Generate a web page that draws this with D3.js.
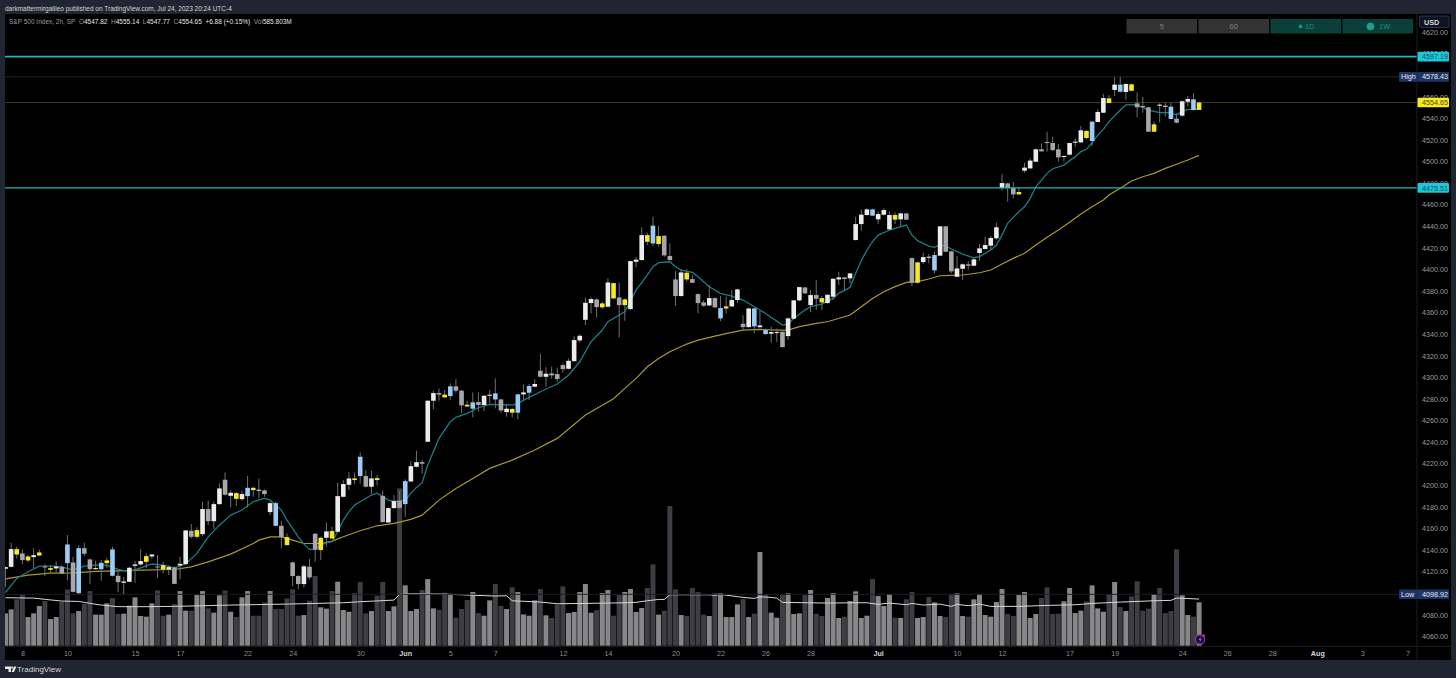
<!DOCTYPE html>
<html>
<head>
<meta charset="utf-8">
<script src="https://cdnjs.cloudflare.com/ajax/libs/d3/7.8.5/d3.min.js"></script>
<style>
html, body { margin: 0; padding: 0; background: #1f2531; overflow: hidden; }
svg { display: block; }
text { font-family: "Liberation Sans", sans-serif; }
</style>
</head>
<body>
<script>
// 2h S&P 500 bars
var highs = [
	4124.4,4146.7,4143.0,4140.5,4135.2,4141.7,4140.5,4126.9,4126.0,4129.4,
	4126.0,4153.8,4133.7,4144.5,4146.7,4132.1,4130.0,4130.6,4132.8,4143.0,
	4121.3,4115.1,4124.4,4130.0,4140.8,4136.8,4136.2,4135.2,4129.0,4125.9,
	4124.4,4133.7,4158.4,4164.0,4160.9,4184.7,4185.6,4184.7,4201.7,4211.9,
	4195.5,4193.6,4194.9,4208.5,4198.6,4206.3,4196.1,4184.7,4184.7,4166.8,
	4155.3,4129.1,4116.7,4126.0,4131.6,4155.6,4152.2,4165.5,4161.5,4202.3,
	4204.8,4212.2,4211.6,4230.4,4214.0,4213.4,4209.4,4194.9,4179.4,4190.9,
	4194.9,4205.4,4222.4,4232.0,4223.3,4278.9,4287.6,4289.7,4288.2,4294.4,
	4298.4,4288.2,4278.3,4286.0,4286.0,4283.6,4288.2,4299.0,4280.5,4275.2,
	4271.8,4284.8,4293.4,4293.8,4298.1,4322.0,4309.2,4309.8,4309.0,4312.9,
	4317.5,4338.2,4339.7,4374.0,4374.0,4373.1,4370.0,4391.7,4387.6,4387.6,
	4373.1,4408.0,4411.7,4438.9,4434.0,4448.8,4440.2,4431.8,4424.1,4398.5,
	4400.0,4400.0,4394.7,4377.8,4371.6,4385.5,4374.0,4375.3,4374.7,4380.8,
	4382.1,4357.7,4364.5,4364.5,4361.4,4345.3,4346.8,4345.3,4342.5,4355.2,
	4371.6,4383.9,4383.9,4380.8,4390.1,4375.3,4377.1,4392.0,4397.8,4392.9,
	4396.6,4448.8,4455.6,4456.6,4456.3,4453.5,4456.6,4453.8,4452.9,4452.5,
	4452.5,4411.1,4407.1,4415.5,4414.2,4416.4,4440.2,4440.2,4417.3,4412.4,
	4405.6,4407.4,4411.1,4423.5,4430.3,4430.9,4443.3,4488.4,4480.4,4481.0,
	4476.0,4498.9,4502.9,4511.9,4516.8,4527.6,4523.0,4516.2,4505.7,4517.4,
	4521.5,4532.9,4529.2,4537.5,4548.3,4562.6,4561.6,4578.0,4578.43,4572.4,
	4572.1,4564.1,4560.1,4550.5,4536.9,4553.9,4554.5,4554.5,4544.6,4556.4,
	4560.7,4563.2,4555.14
];
var lows = [
	4105.9,4123.8,4132.1,4126.9,4128.4,4123.2,4134.3,4115.8,4118.2,4118.8,
	4117.6,4112.1,4100.6,4098.92,4134.3,4108.3,4121.9,4111.4,4123.5,4115.5,
	4100.9,4099.0,4110.2,4109.6,4125.6,4123.2,4131.8,4114.2,4118.2,4116.7,
	4108.3,4113.0,4126.6,4150.7,4150.7,4152.8,4163.0,4159.3,4181.9,4190.5,
	4179.4,4180.6,4185.6,4179.4,4189.3,4187.8,4189.3,4172.3,4162.1,4141.7,
	4144.2,4106.5,4103.4,4105.0,4112.7,4129.1,4130.6,4143.0,4150.1,4156.6,
	4188.7,4195.5,4201.1,4201.7,4198.0,4191.8,4199.8,4165.5,4165.2,4178.2,
	4178.5,4170.8,4202.9,4216.5,4210.9,4240.0,4270.3,4278.3,4280.8,4278.9,
	4285.7,4266.6,4272.4,4262.9,4268.1,4268.7,4275.8,4271.2,4267.2,4263.5,
	4262.9,4261.0,4278.9,4278.9,4290.7,4299.9,4291.3,4298.7,4295.9,4304.2,
	4307.3,4314.4,4332.3,4348.4,4359.2,4355.5,4363.5,4364.8,4372.5,4337.0,
	4352.4,4362.9,4401.9,4408.0,4422.6,4421.9,4421.0,4411.7,4408.0,4366.3,
	4375.0,4388.6,4387.3,4359.2,4365.4,4366.0,4363.8,4352.1,4359.2,4365.4,
	4369.1,4343.1,4346.2,4340.7,4345.3,4339.4,4332.0,4332.6,4327.7,4334.5,
	4353.6,4370.6,4377.1,4360.4,4362.3,4362.3,4368.2,4371.6,4385.5,4380.2,
	4387.0,4426.9,4435.9,4449.8,4449.5,4442.0,4449.8,4436.5,4442.0,4439.6,
	4445.8,4384.6,4387.0,4405.0,4405.6,4396.5,4412.4,4415.8,4396.5,4392.6,
	4390.1,4400.0,4403.1,4408.0,4418.6,4417.9,4427.8,4472.9,4462.7,4465.8,
	4469.2,4489.6,4493.3,4499.5,4509.1,4509.1,4509.7,4499.8,4499.8,4505.7,
	4513.7,4517.4,4520.8,4514.3,4536.3,4544.9,4553.9,4560.7,4563.8,4557.0,
	4565.0,4540.9,4545.2,4527.3,4527.3,4536.0,4541.5,4539.1,4535.4,4541.5,
	4550.8,4547.1,4547.77
];
var opens = [
	4122.6,4124.4,4135.8,4136.8,4130.3,4133.4,4134.9,4124.7,4121.6,4122.9,
	4124.4,4127.8,4128.4,4100.0,4141.7,4131.2,4122.2,4122.2,4127.8,4116.1,
	4116.1,4109.6,4110.5,4125.3,4126.6,4129.0,4134.0,4124.7,4121.9,4121.9,
	4123.8,4125.6,4126.9,4157.8,4152.2,4154.7,4177.9,4166.7,4182.5,4205.1,
	4190.2,4187.4,4187.1,4189.9,4195.5,4194.9,4195.2,4175.1,4162.4,4162.4,
	4144.5,4128.5,4115.8,4108.4,4124.5,4155.0,4139.9,4151.3,4150.7,4156.9,
	4189.3,4200.4,4204.8,4208.5,4208.5,4198.6,4204.8,4190.2,4165.5,4178.8,
	4185.6,4182.5,4203.5,4217.1,4221.4,4240.3,4278.3,4285.4,4281.4,4282.6,
	4291.6,4287.6,4273.0,4270.9,4277.1,4274.3,4282.9,4279.5,4279.5,4267.8,
	4267.2,4267.2,4284.2,4285.7,4291.3,4306.1,4300.5,4303.6,4303.0,4311.3,
	4307.9,4315.0,4334.2,4353.3,4368.8,4372.2,4364.8,4365.4,4373.1,4374.0,
	4366.9,4363.2,4407.1,4408.7,4425.6,4424.1,4423.5,4431.2,4412.4,4390.7,
	4375.3,4390.7,4391.0,4377.1,4369.4,4366.6,4373.4,4354.6,4363.8,4365.7,
	4371.6,4349.6,4346.5,4347.2,4346.5,4340.1,4340.4,4341.6,4342.2,4338.2,
	4354.3,4371.3,4383.3,4366.9,4376.2,4369.4,4368.8,4374.7,4390.7,4392.6,
	4391.7,4427.2,4442.0,4450.4,4449.8,4446.4,4450.7,4437.1,4446.1,4446.4,
	4451.9,4410.5,4387.7,4406.8,4411.1,4399.1,4412.7,4439.9,4416.7,4393.2,
	4400.6,4404.7,4403.4,4415.2,4418.9,4422.0,4428.8,4475.4,4479.7,4475.4,
	4469.5,4491.5,4493.6,4499.8,4511.3,4518.1,4517.1,4511.3,4504.2,4506.3,
	4517.4,4517.7,4521.8,4519.0,4536.6,4545.2,4554.2,4566.3,4564.7,4564.4,
	4565.6,4553.9,4551.4,4550.2,4527.6,4551.7,4551.1,4539.4,4539.7,4542.5,
	4555.4,4547.7,4547.82
];
var closes = [
	4124.1,4140.8,4140.8,4130.6,4134.0,4135.2,4137.7,4124.1,4123.2,4124.7,
	4118.2,4145.1,4101.2,4141.7,4136.5,4122.2,4123.2,4128.1,4130.3,4140.5,
	4110.2,4110.8,4123.5,4126.6,4129.7,4134.3,4135.8,4124.1,4125.9,4124.1,
	4108.6,4127.2,4158.1,4152.2,4158.4,4177.9,4166.7,4182.5,4197.0,4191.2,
	4193.0,4192.7,4191.8,4197.6,4197.6,4195.8,4191.8,4183.4,4183.4,4151.9,
	4151.9,4115.8,4108.4,4124.8,4114.6,4140.2,4151.3,4157.2,4157.5,4189.9,
	4201.1,4206.3,4206.3,4226.4,4198.6,4206.3,4206.6,4165.8,4178.8,4185.3,
	4179.1,4203.8,4217.7,4221.4,4219.9,4278.3,4285.4,4283.9,4283.9,4291.6,
	4287.6,4274.0,4274.6,4276.8,4274.3,4282.9,4283.9,4285.1,4269.3,4270.9,
	4270.6,4284.2,4286.0,4291.9,4293.8,4300.5,4303.3,4301.8,4298.4,4307.6,
	4315.3,4334.5,4338.5,4369.1,4372.5,4365.1,4368.5,4387.9,4387.3,4366.9,
	4372.2,4407.7,4409.0,4431.8,4431.8,4440.5,4430.9,4413.0,4408.7,4375.3,
	4397.2,4396.9,4387.6,4368.8,4366.3,4373.4,4364.8,4364.2,4365.7,4371.6,
	4381.5,4346.5,4363.8,4363.8,4348.1,4343.8,4341.9,4341.9,4328.0,4354.6,
	4371.3,4383.6,4377.8,4376.2,4372.8,4373.4,4376.5,4391.3,4392.6,4391.1,
	4396.3,4442.0,4450.7,4455.6,4455.6,4451.3,4455.0,4450.4,4450.4,4451.9,
	4446.1,4387.7,4406.5,4411.4,4411.8,4413.3,4439.9,4416.4,4398.2,4400.9,
	4404.7,4403.4,4409.3,4419.5,4422.6,4429.1,4439.0,4480.0,4475.4,4469.5,
	4471.7,4494.3,4500.8,4511.3,4509.4,4517.1,4510.6,4503.8,4505.1,4517.1,
	4518.4,4528.9,4528.3,4536.9,4545.9,4558.8,4558.5,4571.2,4571.2,4571.8,
	4571.5,4550.2,4550.2,4527.6,4534.4,4552.7,4551.7,4550.8,4536.0,4555.8,
	4557.9,4557.6,4554.65
];
// w white, g grey, y yellow, b blue
var candleKinds = (
	"wwygywygyw" + "gbgbggwbyb" + "gwwwwywgyw" + "gwwgywgwwg" + "wywbywgwbg" +
	"yggwggywyw" + "wwybgwygww" + "gbwwgwwgyb" + "ggybgwwbgw" + "ybwbwgwggg" +
	"wwwwwgywyg" + "ywwwybyggg" + "wygggwgbyw" + "wgwbwbwwgw" + "wwgwgywwwg" +
	"wwwwbwwwyw" + "ggywwbwggw" + "wgwwwwwwgg" + "ywwwggggww" + "wwybwwywbw" +
	"ygggywwbgw" + "wby"
).split("");

// volume in millions
var volumes = [
	437,491,626,684,387,437,536,603,360,387,
	590,761,437,468,563,738,419,419,572,644,
	428,432,540,653,401,392,572,747,405,419,
	563,738,473,473,684,738,504,446,680,747,
	459,387,653,738,405,405,585,738,495,495,
	639,761,405,414,608,941,518,500,738,864,
	482,459,711,860,437,468,675,860,468,531,
	2124,815,468,495,752,900,504,486,716,684,
	378,495,617,725,441,405,612,833,536,495,
	788,725,423,405,612,765,410,374,558,801,
	441,455,725,833,446,482,711,752,405,684,
	725,765,455,509,779,1098,419,473,1886,761,
	414,401,779,725,419,401,711,707,387,387,
	558,630,387,432,1265,693,446,378,684,707,
	428,437,684,752,432,401,644,711,374,392,
	603,734,374,405,900,671,536,698,378,374,
	626,725,374,387,657,585,401,387,693,707,
	401,392,626,693,414,392,590,765,428,401,
	684,725,374,428,644,788,428,432,599,779,
	441,473,599,815,504,459,698,860,522,468,
	666,869,473,500,693,779,441,468,1301,680,
	414,392,585.8
];
// l light, d dark
var volumeKinds = (
	"llddllldll" + "dddlddllld" + "dllllllddl" + "dlldlldlld" + "ldlldddldd" +
	"dddlddlldl" + "lldddlddll" + "dllldllddl" + "dddldllddl" + "dlllldlddd" +
	"llllldlldd" + "llllddlddd" + "lddddldlll" + "ldldldlldl" + "lldlddllld" +
	"lllldllldl" + "ddlldllddl" + "ldlllllldd" + "llllddddll" + "lldllldldl" +
	"ddddlddddl" + "ldl"
).split("");

// the two moving averages, read at the bars where they bend
var fastIdx = [0,2,4,6,8,10,12,14,16,18,20,22,24,26,28,30,32,34,36,38,40,42,44,46,47,49,50,52,53,54,55,56,57,58,59,60,61,62,63,65,66,67,68,69,71,72,73,74,75,77,79,80,82,84,86,88,90,91,93,95,98,100,102,104,106,107,109,110,112,114,115,116,118,119,120,122,123,125,127,129,131,133,135,137,138,139,140,142,143,145,147,148,150,151,152,153,154,155,156,157,159,160,161,162,164,165,166,167,168,170,172,173,175,176,177,178,179,180,181,182,183,184,185,186,188,189,190,191,192,193,194,195,196,198,199,201,203,205,207,208,209,210,212];
var fastVals = [4100.6,4113.6,4119.8,4125,4125,4124.4,4121.3,4125,4126,4126,4122,4120,4123.5,4127,4126,4123.5,4127,4136.8,4152.2,4163,4172.3,4177,4184.7,4187.8,4186.2,4177,4167.7,4152.2,4145.4,4140.5,4140.5,4144.5,4146.7,4147.6,4156.9,4167.7,4175.4,4181.6,4184.7,4190.9,4192.7,4189.3,4186.2,4185,4186.2,4192.4,4198,4202.3,4218.7,4243.4,4258.8,4262.9,4266.6,4271.8,4274.9,4274.6,4274.3,4275.8,4281.4,4286.6,4293.8,4302,4314.4,4333,4343.8,4351.5,4357.7,4360.8,4380.8,4394.7,4402.5,4406.2,4407.1,4402.5,4399.4,4397.2,4393.2,4383.9,4377.8,4375.3,4371.6,4365.4,4359.2,4352.1,4348.4,4349.3,4354.6,4362.3,4365.4,4367.9,4373.1,4377.8,4383.3,4396.3,4408,4417.9,4425.7,4431.8,4434,4436.5,4439.6,4441.1,4431.8,4426.6,4421.6,4420.4,4422.6,4421.6,4418.9,4414.2,4410.8,4411.8,4417.9,4422.6,4431.8,4442.7,4448.2,4453.5,4458.1,4465.8,4476.6,4482.8,4489,4493.3,4496.7,4500.8,4504.5,4509.1,4511.3,4517.4,4524.5,4529.8,4536.9,4547.7,4552.4,4552.7,4547.7,4545.2,4545.2,4543.1,4546.2,4548.3,4548.6];
var slowIdx = [0,4,8,12,16,20,24,30,33,36,40,44,45,47,49,51,53,54,56,58,60,63,66,69,72,74,77,80,83,86,90,94,98,103,108,110,112,114,116,118,121,123,126,129,131,134,137,139,141,144,146,149,150,152,154,156,158,160,162,164,166,168,170,173,175,177,179,181,183,185,187,189,191,193,195,196,198,200,202,204,206,208,210,212];
var slowVals = [4113.3,4116.7,4118.5,4118.8,4120.1,4120.7,4121.3,4121.9,4124.4,4129,4136.2,4146,4149.1,4152.2,4152.2,4149.1,4146,4146,4146,4148.2,4152.2,4157.8,4162.4,4164.6,4168.3,4172.3,4186.2,4197,4206.3,4215.6,4223.3,4232.6,4243.4,4265,4280.1,4289.7,4299,4309.8,4317.5,4323.7,4330.8,4334.5,4338.2,4341.6,4343.8,4344.4,4343.8,4343.8,4346.9,4350,4351.5,4356.1,4357.7,4365.4,4373.1,4379.3,4384,4388,4388.6,4391.1,4394.1,4394.5,4394.8,4396.9,4399.4,4405,4410.2,4414.9,4422.6,4429.7,4436.5,4443.6,4451.3,4458.1,4464.3,4469,4475.1,4481.9,4485.9,4489,4493.6,4497.4,4501.4,4505.7];
var volMaIdx = [0,5,7,10,13,15,17,20,25,30,40,50,60,63,69,70,72,78,87,89,90,95,98,103,110,112,114,116,117,118,125,126,127,131,133,134,136,137,138,146,151,153,155,157,160,161,163,166,168,169,171,173,175,180,185,190,193,198,204,207,208,212];
var volMaVals = [648,643,626,603,598,572,549,527,527,531,549,562,580,594,616,693,702,697,670,675,607,589,567,571,580,585,607,625,625,688,688,680,693,652,639,661,652,643,585,576,580,580,558,576,553,571,549,562,531,558,540,562,531,531,544,553,571,589,607,612,643,630];

// axis labels
var priceTicks = [4060,4080,4100,4120,4140,4160,4180,4200,4220,4240,4260,4280,4300,4320,4340,4360,4380,4400,4420,4440,4460,4480,4500,4520,4540,4560,4580,4600,4620];
var timeTickIdx = [3,11,23,31,43,51,63,71,79,87,99,107,119,127,135,143,155,169,177,189,197,209,217,225,233,241,249];
var timeTickLabels = ["8","10","15","17","22","24","30","Jun","5","7","12","14","20","22","26","28","Jul","10","12","17","19","24","26","28","Aug","3","7"];
var monthLabels = ["Jun","Jul","Aug"];
var levels = [4597.19,4475.51];
var buttons = ["5","60","1D","1W"];

var w = 1456, h = 678;
var left = 5, right = 1451, axisX = 1417, top_ = 14, bottom = 660, paneBottom = 646.5;

var colors = { w: "#ececec", g: "#a6a6ac", y: "#f6e82a", b: "#9accf5" };

var svg = d3.select("body").append("svg").attr("width", w).attr("height", h);

var x = d3.scaleLinear().domain([0, 249]).range([5.5, 1407.4]);
var y = d3.scaleLinear().domain([4060, 4620]).range([636.3, 32]);
var yv = d3.scaleLinear().domain([0, 2400]).range([645.7, 468]);

// chart background
svg.append("rect").attr("x", left).attr("y", top_).attr("width", right - left).attr("height", bottom - top_).attr("fill", "#000");

svg.append("clipPath").attr("id", "pane").append("rect")
	.attr("x", left).attr("y", top_).attr("width", axisX - left).attr("height", paneBottom - top_);
var pane = svg.append("g").attr("clip-path", "url(#pane)");

// volume
pane.selectAll("rect.vol").data(volumes).enter().append("rect")
	.attr("class", "vol")
	.attr("x", function(d, i) { return x(i) - 2.5; })
	.attr("y", function(d) { return yv(d); })
	.attr("width", 5)
	.attr("height", function(d) { return yv(0) - yv(d); })
	.attr("fill", function(d, i) { return volumeKinds[i] == "l" ? "#87878a" : "#3d3d43"; });

var volLine = d3.line().x(function(d) { return x(d[0]); }).y(function(d) { return yv(d[1]); });
pane.append("path")
	.datum(volMaIdx.map(function(d, i) { return [d, volMaVals[i]]; }))
	.attr("d", volLine).attr("fill", "none").attr("stroke", "#d6d6d6").attr("stroke-width", 1);

// dim lines for high, low and last close
pane.append("line").attr("x1", left).attr("x2", axisX).attr("y1", y(4578.43)).attr("y2", y(4578.43)).attr("stroke", "#262626");
pane.append("line").attr("x1", left).attr("x2", axisX).attr("y1", y(4098.92)).attr("y2", y(4098.92)).attr("stroke", "#1e1e1e");
pane.append("line").attr("x1", left).attr("x2", axisX).attr("y1", y(4554.65)).attr("y2", y(4554.65)).attr("stroke", "#38361a");

// moving averages
var priceLine = d3.line().x(function(d) { return x(d[0]); }).y(function(d) { return y(d[1]); });
pane.append("path")
	.datum(slowIdx.map(function(d, i) { return [d, slowVals[i]]; }))
	.attr("d", priceLine).attr("fill", "none").attr("stroke", "#a8982e").attr("stroke-width", 1.2);
pane.append("path")
	.datum(fastIdx.map(function(d, i) { return [d, fastVals[i]]; }))
	.attr("d", priceLine).attr("fill", "none").attr("stroke", "#1b7d84").attr("stroke-width", 1.3);

// candles
pane.selectAll("line.wick").data(highs).enter().append("line")
	.attr("class", "wick")
	.attr("x1", function(d, i) { return x(i); })
	.attr("x2", function(d, i) { return x(i); })
	.attr("y1", function(d) { return y(d); })
	.attr("y2", function(d, i) { return y(lows[i]); })
	.attr("stroke", "#6f6f6f").attr("stroke-width", 1);

pane.selectAll("rect.body").data(opens).enter().append("rect")
	.attr("class", "body")
	.attr("x", function(d, i) { return x(i) - 2.3; })
	.attr("y", function(d, i) { return y(Math.max(d, closes[i])); })
	.attr("width", 4.6)
	.attr("height", function(d, i) { return Math.max(1, Math.abs(y(d) - y(closes[i]))); })
	.attr("fill", function(d, i) { return colors[candleKinds[i]]; });

// the two cyan levels
pane.selectAll("line.level").data(levels).enter().append("line")
	.attr("class", "level")
	.attr("x1", left).attr("x2", axisX)
	.attr("y1", function(d) { return y(d); })
	.attr("y2", function(d) { return y(d); })
	.attr("stroke", "#23b6c0")
	.attr("stroke-width", function(d, i) { return i == 0 ? 1.6 : 1.2; });

// price axis
var yAxis = svg.append("g").attr("transform", "translate(" + (axisX + 5) + ",0)")
	.call(d3.axisRight(y).tickValues(priceTicks).tickSize(0).tickPadding(0).tickFormat(d3.format(".2f")));
yAxis.select(".domain").remove();
yAxis.selectAll("text").attr("fill", "#9b9b9b").attr("font-size", "7.2px");

// time axis
var xAxis = svg.append("g").attr("transform", "translate(0,651)")
	.call(d3.axisBottom(x).tickValues(timeTickIdx).tickSize(0).tickPadding(0)
		.tickFormat(function(d) { return timeTickLabels[timeTickIdx.indexOf(d)]; }));
xAxis.select(".domain").remove();
xAxis.selectAll("text")
	.attr("font-size", "7.2px")
	.attr("fill", function(d) { return monthLabels.indexOf(timeTickLabels[timeTickIdx.indexOf(d)]) >= 0 ? "#d6d6d6" : "#8d8d8d"; })
	.attr("font-weight", function(d) { return monthLabels.indexOf(timeTickLabels[timeTickIdx.indexOf(d)]) >= 0 ? "bold" : "normal"; });

svg.append("line").attr("x1", axisX).attr("x2", axisX).attr("y1", top_).attr("y2", bottom).attr("stroke", "#1d1f26");
svg.append("line").attr("x1", left).attr("x2", right).attr("y1", paneBottom).attr("y2", paneBottom).attr("stroke", "#1a1c22");

// tags on the price axis
function tag(price, label, bg, fg) {
	var t = svg.append("g").attr("transform", "translate(0," + y(price) + ")");
	t.append("rect").attr("x", 1417.5).attr("y", -4.8).attr("width", 31.5).attr("height", 9.6).attr("fill", bg).attr("rx", 1);
	t.append("text").text(label).attr("x", 1422).attr("y", 2.6).attr("font-size", "7.2px").attr("fill", fg);
}
tag(4597.19, "4597.19", "#1fc6d8", "#10505a");
tag(4475.51, "4475.51", "#1fc6d8", "#10505a");
tag(4554.65, "4554.65", "#f6e91f", "#4a4500");
tag(4578.43, "4578.43", "#1c3566", "#e8e8e8");
tag(4098.92, "4098.92", "#1c3566", "#e8e8e8");

function sideTag(price, label) {
	var t = svg.append("g").attr("transform", "translate(0," + y(price) + ")");
	t.append("rect").attr("x", 1399).attr("y", -4.8).attr("width", 18.5).attr("height", 9.6).attr("fill", "#1c3566").attr("rx", 1);
	t.append("text").text(label).attr("x", 1401).attr("y", 2.6).attr("font-size", "7.2px").attr("fill", "#e8e8e8");
}
sideTag(4578.43, "High");
sideTag(4098.92, "Low");

// interval buttons
var btnX = d3.scaleBand().domain(buttons).range([1126.5, 1413]).paddingInner(0.02);
var btn = svg.selectAll("g.btn").data(buttons).enter().append("g").attr("class", "btn");
btn.append("rect")
	.attr("x", function(d) { return btnX(d); })
	.attr("y", 19).attr("width", btnX.bandwidth()).attr("height", 14.5)
	.attr("fill", function(d, i) { return i < 2 ? "#333334" : "#0a4039"; });
btn.append("text").text(function(d) { return d; })
	.attr("x", function(d, i) { return btnX(d) + btnX.bandwidth() / 2 + [0, 0, 4, 7][i]; })
	.attr("y", 29).attr("text-anchor", "middle").attr("font-size", "7.5px")
	.attr("fill", function(d, i) { return i < 2 ? "#808080" : "#1c8f7e"; });
svg.append("path").attr("d", d3.symbol().type(d3.symbolTriangle).size(9)())
	.attr("transform", "translate(" + (btnX("1D") + 30) + ",26.5)").attr("fill", "#1ba18c");
svg.append("circle").attr("cx", btnX("1W") + 28).attr("cy", 26.5).attr("r", 3.8).attr("fill", "#1ba18c");

// currency box
svg.append("rect").attr("x", 1419.5).attr("y", 16).attr("width", 29.5).attr("height", 11.5).attr("rx", 1.5)
	.attr("fill", "#0d1525").attr("stroke", "#2c3548");
svg.append("text").text("USD").attr("x", 1424).attr("y", 24.6).attr("font-size", "7.2px").attr("fill", "#d8d8d8").attr("font-weight", "bold");

// header
svg.append("text").text("darkmattermirgalileo published on TradingView.com, Jul 24, 2023 20:24 UTC-4")
	.attr("x", 5).attr("y", 10.5).attr("font-size", "6.5px").attr("fill", "#d4d6da");

var legend = svg.append("text").attr("x", 9).attr("y", 24).attr("font-size", "6.5px").attr("fill", "#9a9a9a");
var legendParts = [
	["S&P 500 Index, 2h, SP  ", false], ["O", false], ["4547.82  ", true], ["H", false], ["4555.14  ", true],
	["L", false], ["4547.77  ", true], ["C", false], ["4554.65  ", true], ["+6.88 (+0.15%)  ", true], ["Vol", false], ["585.803M", true]
];
legend.selectAll("tspan").data(legendParts).enter().append("tspan")
	.style("white-space", "pre")
	.attr("fill", function(d) { return d[1] ? "#e4e4e4" : "#9a9a9a"; })
	.text(function(d) { return d[0]; });

// footer logo and name
svg.append("path").attr("d", "M5 666.5h6v5.5h-2.5v-3h-3.5z").attr("fill", "#e8e8e8");
svg.append("circle").attr("cx", 12.2).attr("cy", 667.6).attr("r", 1.1).attr("fill", "#e8e8e8");
svg.append("path").attr("d", "M14 666.5h2.4l-2.4 5.5h-2.4z").attr("fill", "#e8e8e8");
svg.append("text").text("TradingView").attr("x", 17).attr("y", 672).attr("font-size", "8px").attr("fill", "#d8d8d8");

// bolt icon on the last bar
var iconX = x(212) + 1;
svg.append("circle").attr("cx", iconX).attr("cy", 639.5).attr("r", 4.6).attr("fill", "#1a0d28").attr("stroke", "#8e35b5").attr("stroke-width", 1.2);
svg.append("path").attr("d", "M" + (iconX + 0.8) + " 636.5l-2.4 3.4h1.6l-0.8 2.8l2.6 -3.6h-1.6z").attr("fill", "#b45ad6");
svg.append("circle").attr("cx", iconX + 3.5).attr("cy", 635.8).attr("r", 1.3).attr("fill", "#e0309a");
</script>
</body>
</html>
